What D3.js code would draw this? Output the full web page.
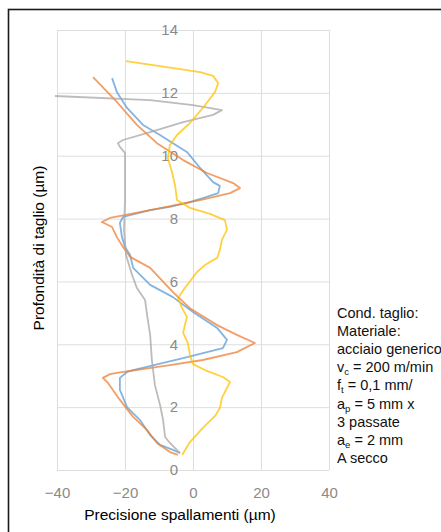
<!DOCTYPE html>
<html>
<head>
<meta charset="utf-8">
<script src="https://cdn.jsdelivr.net/npm/d3@7"></script>
<style>
  body { margin: 0; background: #fff; }
  text { font-family: "Liberation Sans", Arial, sans-serif; }
</style>
</head>
<body>
<svg id="chart" width="441" height="532"></svg>
<script>
//Tick values of both axes
var xTicks = [-40, -20, 0, 20, 40];
var yTicks = [0, 2, 4, 6, 8, 10, 12, 14];

//Series 1 (blue): precision (um) against depth (um)
var bluePrec  = [-23.8, -22.4, -19.4, -14.7, -9.7, -5.9, -1.8, 2.1, 5.9, 7.9, 7.4, 2.9, -1.8, -6.8, -12.6, -20.6, -21.5, -20.9, -20.0, -18.5, -17.6, -12.6, -5.9, 0.0, 7.1, 10.0, 8.8, -2.9, -17.6, -19.4, -21.5, -21.5, -19.4, -15.6, -12.6, -9.7, -5.9, -3.8];
var blueDepth = [12.47, 12.03, 11.52, 10.98, 10.66, 10.40, 10.12, 9.61, 9.16, 9.04, 8.81, 8.65, 8.50, 8.37, 8.27, 8.05, 7.86, 7.41, 7.10, 6.84, 6.43, 5.89, 5.50, 5.03, 4.52, 4.14, 3.88, 3.56, 3.18, 3.12, 2.93, 2.55, 2.00, 1.59, 1.11, 0.80, 0.64, 0.54];

//Series 2 (orange)
var orangePrec  = [-29.4, -22.4, -16.5, -10.6, -2.9, 4.1, 11.8, 13.8, 10.9, 2.1, -12.6, -24.4, -26.8, -23.8, -22.4, -20.6, -18.5, -12.6, -5.9, -0.9, 7.1, 12.9, 18.2, 12.9, 2.9, -6.8, -22.4, -24.4, -26.5, -25.0, -21.5, -17.6, -13.5, -10.6, -6.8, -4.4];
var orangeDepth = [12.50, 11.71, 10.98, 10.40, 9.86, 9.45, 9.13, 8.97, 8.81, 8.59, 8.27, 8.02, 7.89, 7.73, 7.41, 7.10, 6.78, 6.43, 5.66, 5.15, 4.61, 4.30, 4.04, 3.75, 3.50, 3.34, 3.09, 3.05, 2.93, 2.77, 2.23, 1.69, 1.27, 0.86, 0.57, 0.48];

//Series 3 (grey)
var greyPrec  = [-40.6, -12.6, 0.0, 8.5, 5.9, -2.9, -12.6, -20.6, -22.1, -21.5, -20.0, -20.0, -20.3, -19.7, -17.9, -16.5, -14.1, -13.5, -12.6, -12.1, -11.2, -9.7, -8.8, -8.2, -6.8, -3.8];
var greyDepth = [11.90, 11.77, 11.61, 11.45, 11.30, 11.07, 10.75, 10.50, 10.40, 10.28, 10.09, 8.59, 7.64, 6.84, 6.20, 5.79, 5.41, 4.93, 4.30, 3.50, 2.70, 2.07, 1.59, 1.05, 0.86, 0.54];

//Series 4 (yellow)
var yellowPrec  = [-19.7, -9.7, 2.1, 5.9, 7.4, 6.5, 2.9, -0.9, -4.7, -6.8, -7.4, -6.2, -5.3, -4.7, -0.9, 5.0, 9.4, 10.0, 8.5, 7.9, 7.1, 3.5, 1.2, -2.4, -4.4, -3.2, -1.8, -2.4, -2.9, -1.5, -0.9, 0.0, 3.5, 8.8, 10.9, 9.7, 8.5, 7.9, 6.5, 2.9, -0.9, -3.2];
var yellowDepth = [13.01, 12.85, 12.66, 12.54, 12.31, 12.03, 11.52, 11.04, 10.66, 10.34, 9.93, 9.48, 9.07, 8.59, 8.34, 8.15, 7.95, 7.64, 7.32, 7.00, 6.75, 6.52, 6.30, 5.79, 5.47, 5.15, 4.87, 4.61, 4.36, 4.04, 3.66, 3.37, 3.18, 2.96, 2.80, 2.55, 2.29, 1.97, 1.72, 1.34, 0.89, 0.48];

//Text beside the plot
var noteLines = [
    [["Cond. taglio:", ""]],
    [["Materiale:", ""]],
    [["acciaio generico", ""]],
    [["v", ""], ["c", "sub"], [" = 200 m/min", ""]],
    [["f", ""], ["t", "sub"], [" = 0,1 mm/", ""]],
    [["a", ""], ["p", "sub"], [" = 5 mm x", ""]],
    [["3 passate", ""]],
    [["a", ""], ["e", "sub"], [" = 2 mm", ""]],
    [["A secco", ""]]
];

var svg = d3.select("#chart");

//Outer frame
svg.append("rect")
    .attr("x", 8.5).attr("y", 9.5)
    .attr("width", 440).attr("height", 530)
    .attr("fill", "none").attr("stroke", "#1a1a1a").attr("stroke-width", 1.6);

var x = d3.scaleLinear().domain([-40, 40]).range([57, 329]);
var y = d3.scaleLinear().domain([0, 14]).range([470, 30]);

//Gridlines
svg.append("g")
    .attr("transform", "translate(0," + y(0) + ")")
    .call(d3.axisBottom(x).tickValues(xTicks).tickSize(-(y(0) - y(14))).tickFormat(""))
    .call(g => g.select(".domain").remove())
    .call(g => g.selectAll("line").attr("stroke", "#dedede"));

svg.append("g")
    .attr("transform", "translate(" + x(-40) + ",0)")
    .call(d3.axisLeft(y).tickValues(yTicks).tickSize(-(x(40) - x(-40))).tickFormat(""))
    .call(g => g.select(".domain").remove())
    .call(g => g.selectAll("line").attr("stroke", "#dedede"));

//Axis labels (y labels sit beside the vertical axis at x = 0)
svg.append("g")
    .attr("transform", "translate(0," + y(0) + ")")
    .call(d3.axisBottom(x).tickValues(xTicks).tickSize(0).tickPadding(17))
    .call(g => g.select(".domain").remove())
    .call(g => g.selectAll("text").attr("font-size", 15).attr("fill", "#8a8a8a")
        .style("font-family", "Liberation Sans, Arial, sans-serif"));

svg.append("g")
    .attr("transform", "translate(" + x(0) + ",0)")
    .call(d3.axisLeft(y).tickValues(yTicks).tickSize(0).tickPadding(15))
    .call(g => g.select(".domain").remove())
    .call(g => g.selectAll("text").attr("font-size", 15).attr("fill", "#8a8a8a")
        .style("font-family", "Liberation Sans, Arial, sans-serif"));

//Series lines
var series = [
    {prec: bluePrec, depth: blueDepth, color: "#5b9bd5"},
    {prec: orangePrec, depth: orangeDepth, color: "#ed7d31"},
    {prec: greyPrec, depth: greyDepth, color: "#a5a5a5"},
    {prec: yellowPrec, depth: yellowDepth, color: "#ffc000"}
];

var line = d3.line()
    .x(d => x(d[0]))
    .y(d => y(d[1]));

series.forEach(function(s){
    var pts = s.prec.map((v, i) => [v, s.depth[i]]);
    svg.append("path")
        .datum(pts)
        .attr("d", line)
        .attr("fill", "none")
        .attr("stroke", s.color)
        .attr("stroke-width", 1.8)
        .attr("stroke-opacity", 0.75)
        .attr("stroke-linejoin", "round");
});

//Axis titles
svg.append("text")
    .attr("x", 180).attr("y", 520)
    .attr("text-anchor", "middle")
    .attr("font-size", 15.5)
    .text("Precisione spallamenti (µm)");

svg.append("text")
    .attr("transform", "translate(44,248) rotate(-90)")
    .attr("text-anchor", "middle")
    .attr("font-size", 15.5)
    .text("Profondità di taglio (µm)");

//Cutting conditions note
var note = svg.append("text")
    .attr("font-size", 14.5)
    .attr("fill", "#111");

noteLines.forEach(function(parts, i){
    var baseY = 317.5 + i * 18.2;
    parts.forEach(function(p, j){
        var t = note.append("tspan").text(p[0]);
        if (j == 0) t.attr("x", 337).attr("y", baseY);
        else t.attr("y", p[1] == "sub" ? baseY + 3 : baseY);
        if (p[1] == "sub") t.attr("font-size", 9.5);
    });
});
</script>
</body>
</html>
